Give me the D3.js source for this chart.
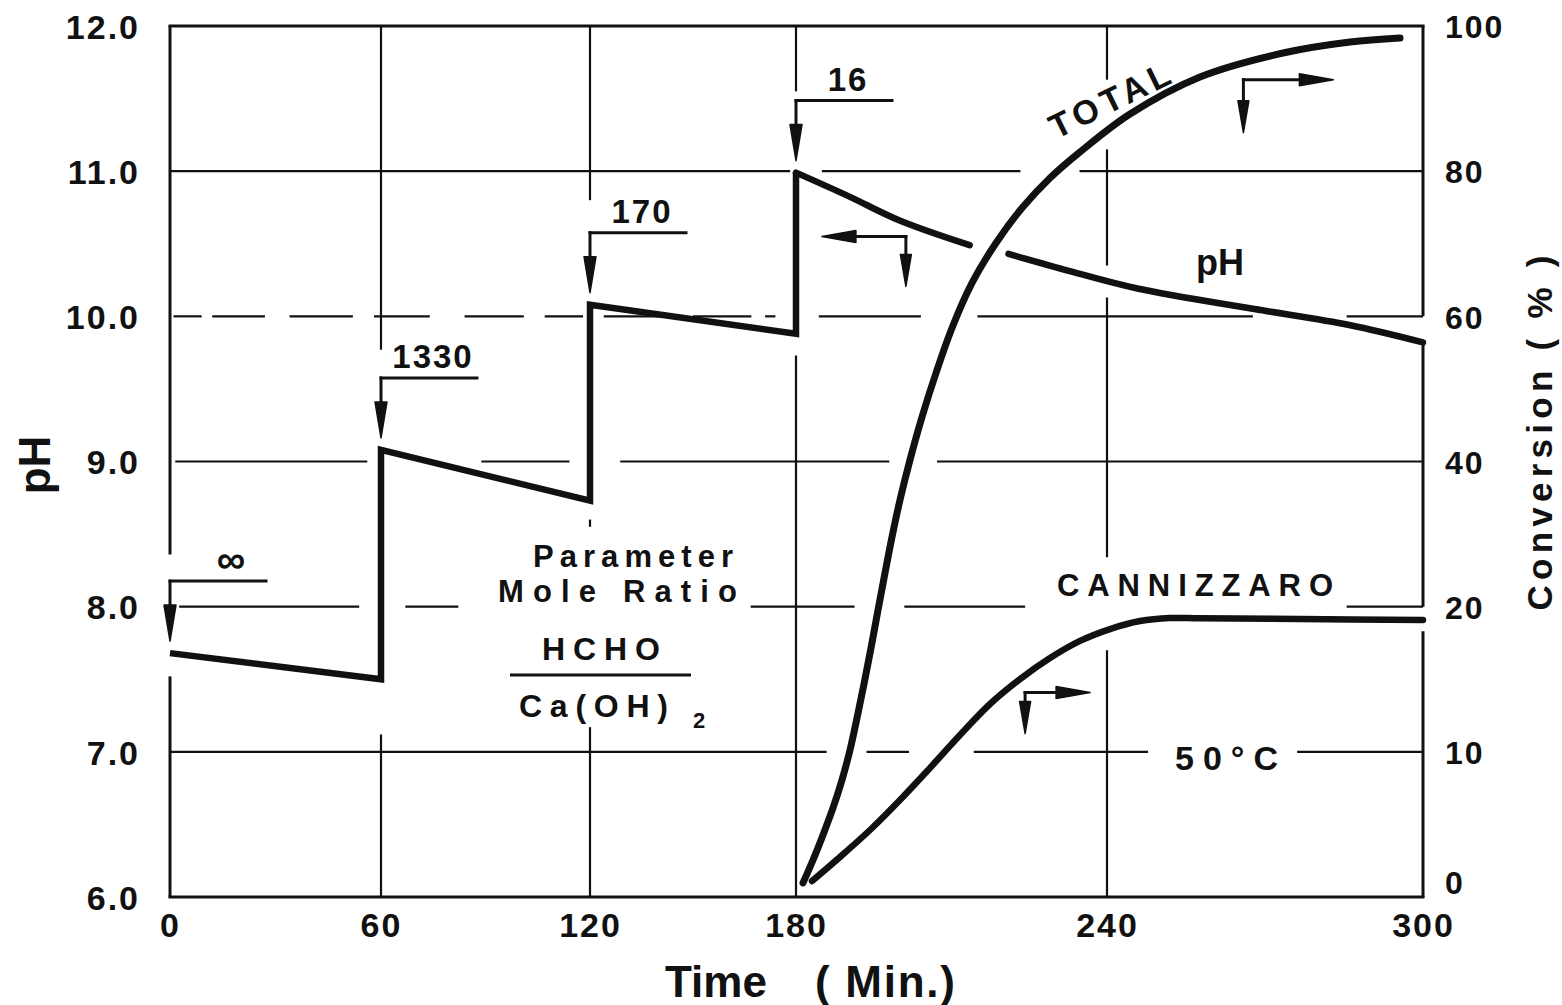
<!DOCTYPE html>
<html><head><meta charset="utf-8">
<script src="https://cdn.jsdelivr.net/npm/d3@7"></script>
<style>
html,body{margin:0;padding:0;background:#fff;}
svg{display:block;background:#fff;}
text{font-family:"Liberation Sans",Arial,sans-serif;font-weight:bold;fill:#111;}
</style></head><body>
<svg id="chart" width="1562" height="1005"></svg>
<script>
// ---------------- data ----------------
const timeTicks = [0, 60, 120, 180, 240, 300];
const timeTickLabels = ["0", "60", "120", "180", "240", "300"];
const phTicks = [6, 7, 8, 9, 10, 11, 12];
const phTickLabels = ["6.0", "7.0", "8.0", "9.0", "10.0", "11.0", "12.0"];
const convTicks = [0, 10, 20, 40, 60, 80, 100];
const convTickLabels = ["0", "10", "20", "40", "60", "80", "100"];

const additionTimes = [0, 60, 120, 180];
const moleRatioLabels = ["∞", "1330", "170", "16"];

// pH: step additions (vertical jumps) then decay
const phStepTime  = [0, 60, 60, 120, 120, 180, 180];
const phStepValue = [7.68, 7.50, 9.08, 8.73, 10.08, 9.88, 10.99];
const phDecayTime1  = [180, 190, 200, 213.5];
const phDecayValue1 = [10.99, 10.83, 10.66, 10.49];
const phDecayTime2  = [221, 233, 246, 268, 286, 300];
const phDecayValue2 = [10.43, 10.31, 10.19, 10.05, 9.94, 9.82];

// conversion (%), right axis
const totalTime = [181.35, 183.28, 185.21, 187.14, 188.87, 190.42, 191.77, 193.12, 194.47, 195.82, 197.17, 198.52, 200.06, 201.99, 204.31, 207.01, 210.10, 213.96, 218.59, 223.60, 229.00, 234.79, 244.37, 257.66, 273.42, 286.14, 295.63];
const totalConv = [0.97, 2.55, 4.28, 6.14, 8.07, 10.14, 12.34, 14.69, 17.17, 19.79, 24.68, 29.64, 34.73, 40.24, 46.16, 52.22, 58.42, 64.62, 70.12, 74.94, 79.07, 82.65, 87.88, 92.98, 96.28, 97.80, 98.35];
const cannTime = [183.09, 188.49, 194.28, 200.06, 205.85, 211.64, 217.43, 223.22, 229.00, 234.79, 240.57, 246.27, 251.96, 257.66, 276.65, 300];
const cannConv = [1.10, 2.76, 4.62, 6.69, 8.90, 11.17, 13.31, 15.03, 16.48, 17.66, 18.48, 19.03, 19.24, 19.22, 19.17, 19.10];

// ---------------- layout / decoration ----------------
const svg = d3.select("#chart");
const x = d3.scaleLinear().domain(timeTicks).range([170, 381, 590, 796, 1107, 1423]);
const y = d3.scaleLinear().domain([6, 12]).range([897, 26]);
const y2 = d3.scaleLinear().domain([0, 20, 100]).range([897, 607, 26]);
const INK = "#111";

// broken grid lines (visible stretches, in data units)
const hGrid = [
  {v: 11, segs: [[0, 178.3], [185, 223.3], [234.7, 300]]},
  {v: 10, segs: [[1, 9], [12, 27], [34, 52], [58, 74], [84, 101], [107, 118], [124, 141], [150, 167], [171, 174], [184.4, 204.1], [215, 267.7], [285.5, 300]]},
  {v: 9, segs: [[1.5, 56.1], [88.8, 114.1], [128.8, 198], [207.2, 300]]},
  {v: 8, segs: [[2.6, 53.8], [67, 82.2], [166.8, 191.3], [200.9, 224.2], [285.5, 300]]},
  {v: 7, segs: [[0, 185.9], [193.6, 201.8], [214.3, 247.8], [276.1, 300]]}
];
const vGrid = [
  {t: 60, segs: [[12, 9.77], [7.12, 6]]},
  {t: 120, segs: [[12, 10.80], [8.60, 8.55], [7.17, 6]]},
  {t: 180, segs: [[12, 11.55], [9.73, 6]]},
  {t: 240, segs: [[12, 11.63], [11.15, 10.35], [10.13, 8.34], [7.70, 6]]}
];
const borders = [
  {t: 0, segs: [[12, 8.36], [7.52, 6]]},
  {t: 300, segs: [[12, 10.0], [9.82, 8.0], [7.83, 6]]}
];

const gGrid = svg.append("g").attr("stroke", INK).attr("fill", "none");
hGrid.forEach(g => g.segs.forEach(s => {
  gGrid.append("line").attr("x1", x(s[0])).attr("x2", x(s[1]))
    .attr("y1", y(g.v)).attr("y2", y(g.v)).attr("stroke-width", 2.2);
}));
vGrid.forEach(g => g.segs.forEach(s => {
  gGrid.append("line").attr("x1", x(g.t)).attr("x2", x(g.t))
    .attr("y1", y(s[0])).attr("y2", y(s[1])).attr("stroke-width", 2.2);
}));
borders.forEach(g => g.segs.forEach(s => {
  gGrid.append("line").attr("x1", x(g.t)).attr("x2", x(g.t))
    .attr("y1", y(s[0])).attr("y2", y(s[1])).attr("stroke-width", 3);
}));
[12, 6].forEach(v => gGrid.append("line").attr("x1", x(0) - 1.5).attr("x2", x(300) + 1.5)
  .attr("y1", y(v)).attr("y2", y(v)).attr("stroke-width", 3));

// ---------------- axis tick labels ----------------
const leftAxis = d3.axisLeft(y).tickValues(phTicks).tickFormat((d, i) => phTickLabels[i]).tickSize(0).tickPadding(30);
const gl = svg.append("g").attr("transform", `translate(${x(0)},0)`).call(leftAxis);
gl.select(".domain").remove();
gl.selectAll("text").style("font-size", "34px").style("letter-spacing", "2px")
  .attr("dy", "0.36em").attr("fill", INK).attr("font-family", null);

const bottomAxis = d3.axisBottom(x).tickValues(timeTicks).tickFormat((d, i) => timeTickLabels[i]).tickSize(0).tickPadding(16);
const gb = svg.append("g").attr("transform", `translate(0,${y(6)})`).call(bottomAxis);
gb.select(".domain").remove();
gb.selectAll("text").style("font-size", "34px").style("letter-spacing", "2px")
  .attr("fill", INK).attr("font-family", null);

const rightAxis = d3.axisRight(y2).tickValues(convTicks).tickFormat((d, i) => convTickLabels[i]).tickSize(0).tickPadding(22);
const gr = svg.append("g").attr("transform", `translate(${x(300)},0)`).call(rightAxis);
gr.select(".domain").remove();
gr.selectAll("text").style("font-size", "32px").style("letter-spacing", "2px")
  .attr("dy", d => d === 0 ? "-0.1em" : "0.36em").attr("fill", INK).attr("font-family", null);

// axis titles
svg.append("text").attr("x", 665).attr("y", 997).style("font-size", "44px").text("Time");
svg.append("text").attr("x", 815).attr("y", 997).style("font-size", "44px").attr("textLength", 140).text("( Min.)");
svg.append("text").attr("transform", "translate(50,465) rotate(-90)").attr("text-anchor", "middle")
  .style("font-size", "44px").text("pH");
svg.append("text").attr("transform", "translate(1552,433) rotate(-90)").attr("text-anchor", "middle")
  .style("font-size", "35px").attr("textLength", 355).text("Conversion ( % )");

// ---------------- data curves ----------------
const gData = svg.append("g").attr("fill", "none").attr("stroke", INK).attr("stroke-width", 6.5);
const stepLine = d3.line().x(d => x(d[0])).y(d => y(d[1]));
const smoothPH = d3.line().curve(d3.curveCatmullRom.alpha(0.5)).x(d => x(d[0])).y(d => y(d[1]));
const smoothConv = d3.line().curve(d3.curveCatmullRom.alpha(0.5)).x(d => x(d[0])).y(d => y2(d[1]));

gData.append("path").attr("d", stepLine(phStepTime.map((t, i) => [t, phStepValue[i]])))
  .attr("stroke-linejoin", "miter").attr("stroke-linecap", "butt");
gData.append("path").attr("d", smoothPH(phDecayTime1.map((t, i) => [t, phDecayValue1[i]])))
  .attr("stroke-linecap", "round");
gData.append("path").attr("d", smoothPH(phDecayTime2.map((t, i) => [t, phDecayValue2[i]])))
  .attr("stroke-linecap", "round");
gData.append("path").attr("d", smoothConv(totalTime.map((t, i) => [t, totalConv[i]])))
  .attr("stroke-linecap", "round").attr("stroke-width", 7);
gData.append("path").attr("d", smoothConv(cannTime.map((t, i) => [t, cannConv[i]])))
  .attr("stroke-linecap", "round");

// ---------------- annotations ----------------
const gAnn = svg.append("g");
function arrowHead(tx, ty, dir, len = 36, w = 12) {
  let p;
  if (dir === "down") p = [[tx, ty], [tx - w / 2, ty - len], [tx + w / 2, ty - len]];
  else if (dir === "left") p = [[tx, ty], [tx + len, ty - w / 2], [tx + len, ty + w / 2]];
  else p = [[tx, ty], [tx - len, ty - w / 2], [tx - len, ty + w / 2]];
  gAnn.append("path").attr("d", "M" + p.map(q => q.join(",")).join("L") + "Z")
    .attr("fill", INK).attr("stroke", INK).attr("stroke-width", 1.5).attr("stroke-linejoin", "round");
}
function seg(x1, y1, x2, y2, w = 3) {
  gAnn.append("line").attr("x1", x1).attr("y1", y1).attr("x2", x2).attr("y2", y2)
    .attr("stroke", INK).attr("stroke-width", w).attr("stroke-linecap", "square");
}

// addition brackets with mole-ratio labels
additionTimes.forEach((t, i) => {
  const after = d3.max(phStepTime.map((tt, j) => tt === t ? phStepValue[j] : -Infinity));
  const x0 = x(t), yAfter = y(after);
  const top = yAfter - 72, tip = yAfter - 12;
  seg(x0, top, x0 + 96, top);
  seg(x0, top, x0, tip - 30);
  arrowHead(x0, tip, "down", 36, 12);
  gAnn.append("text").attr("x", x0 + (i === 0 ? 62 : 52)).attr("y", top - (i === 0 ? 8 : 10)).attr("text-anchor", "middle")
    .style("font-size", i === 0 ? "40px" : "33px").style("letter-spacing", "2px").text(moleRatioLabels[i]);
});

// axis pointer arrows
const pointers = [
  {t: 201.2, v: 10.55, h: 84, d: 50, dir: "left", axis: "ph"},
  {t: 265.9, v: 92.6, h: 90, d: 53, dir: "right", axis: "conv"},
  {t: 224.2, v: 14.1, h: 65, d: 41, dir: "right", axis: "conv"}
];
pointers.forEach(p => {
  const cx = x(p.t), cy = p.axis === "ph" ? y(p.v) : y2(p.v);
  const ex = p.dir === "left" ? cx - p.h : cx + p.h;
  seg(cx, cy, p.dir === "left" ? ex + 30 : ex - 30, cy);
  arrowHead(ex, cy, p.dir, 34, 12);
  seg(cx, cy, cx, cy + p.d - 28);
  arrowHead(cx, cy + p.d, "down", 32, 11);
});

// curve labels
svg.append("text").attr("transform", "translate(1117,110) rotate(-26)").attr("text-anchor", "middle")
  .style("font-size", "34px").style("letter-spacing", "5px").text("TOTAL");
svg.append("text").attr("x", 1196).attr("y", 275).style("font-size", "36px").text("pH");
svg.append("text").attr("x", 1057).attr("y", 596).attr("textLength", 276).style("font-size", "31px").text("CANNIZZARO");
svg.append("text").attr("x", 1175).attr("y", 770).attr("textLength", 103).style("font-size", "34px").text("50°C");

// parameter legend
svg.append("text").attr("x", 533).attr("y", 567).attr("textLength", 200).style("font-size", "31px").text("Parameter");
svg.append("text").attr("x", 498).attr("y", 602).attr("textLength", 239).style("font-size", "31px").text("Mole  Ratio");
svg.append("text").attr("x", 542).attr("y", 660).attr("textLength", 118).style("font-size", "32px").text("HCHO");
gAnn.append("line").attr("x1", 510).attr("x2", 691).attr("y1", 675).attr("y2", 675).attr("stroke", INK).attr("stroke-width", 3);
svg.append("text").attr("x", 519).attr("y", 717).attr("textLength", 149).style("font-size", "32px").text("Ca(OH)");
svg.append("text").attr("x", 693).attr("y", 728).style("font-size", "22px").text("2");
</script>
</body></html>
